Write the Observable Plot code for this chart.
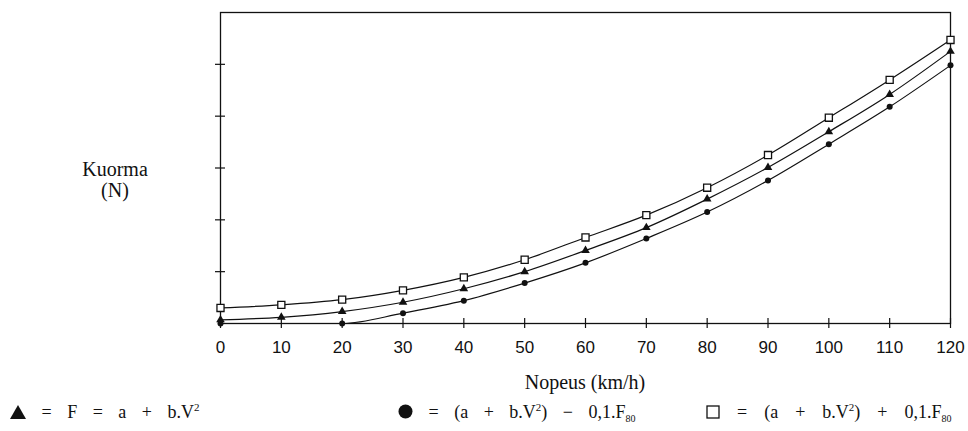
<!DOCTYPE html>
<html>
<head>
<meta charset="utf-8">
<script src="https://cdn.jsdelivr.net/npm/d3@7"></script>
<script src="https://cdn.jsdelivr.net/npm/@observablehq/plot@0.6"></script>
<style>
  html, body { margin: 0; padding: 0; background: #fff; }
  #wrap { position: relative; width: 968px; height: 431px; overflow: hidden; }
  #chart { position: absolute; left: 0; top: 0; }
  .serif { font-family: "Liberation Serif", "Times New Roman", serif; color: #111; position: absolute; white-space: nowrap; }
  .leg { font-size: 18px; word-spacing: 11px; top: 402px; }
  .leg svg { vertical-align: -1px; }
  sup { font-size: 11px; vertical-align: 7px; line-height: 0; }
  sub { font-size: 10px; vertical-align: -4px; line-height: 0; }
</style>
</head>
<body>
<div id="wrap">
  <div id="chart"></div>
  <div class="serif" style="left:60px;width:110px;text-align:center;top:159px;font-size:20px;line-height:21px;">Kuorma<br>(N)</div>
  <div class="serif" style="left:485px;width:200px;text-align:center;top:371px;font-size:20px;">Nopeus (km/h)</div>
  <div class="serif leg" style="left:10px;"><svg width="16" height="14"><path d="M8,0L16,14L0,14Z" fill="#111"/></svg> = F = a + b.V<sup>2</sup></div>
  <div class="serif leg" style="left:398px;"><svg width="15" height="15"><circle cx="7.5" cy="7.5" r="7" fill="#111"/></svg> = (a + b.V<sup>2</sup>) − 0,1.F<sub>80</sub></div>
  <div class="serif leg" style="left:706px;word-spacing:12.5px;"><svg width="14" height="14"><rect x="1" y="1" width="12" height="12" fill="none" stroke="#111" stroke-width="1.3"/></svg> = (a + b.V<sup>2</sup>) + 0,1.F<sub>80</sub></div>
</div>
<script>
const speeds = [0, 10, 20, 30, 40, 50, 60, 70, 80, 90, 100, 110, 120];
const triangleValues = [0.07, 0.12, 0.23, 0.41, 0.67, 1.00, 1.41, 1.85, 2.40, 3.01, 3.70, 4.42, 5.25];
const circleValues = [0, null, 0, 0.20, 0.44, 0.78, 1.17, 1.64, 2.15, 2.76, 3.46, 4.18, 4.98];
const squareValues = [0.30, 0.36, 0.46, 0.64, 0.89, 1.23, 1.66, 2.09, 2.62, 3.25, 3.97, 4.70, 5.47];
const xTicks = speeds;
const yTicks = [1, 2, 3, 4, 5];

const tri = speeds.map((x, i) => ({x, y: triangleValues[i], s: "triangle"}));
const cir = speeds.map((x, i) => ({x, y: circleValues[i], s: "circle"})).filter(d => d.y != null);
const sq = speeds.map((x, i) => ({x, y: squareValues[i], s: "square"}));
const all = [...tri, ...cir, ...sq];

const chart = Plot.plot({
  width: 968,
  height: 362,
  marginLeft: 220,
  marginRight: 18,
  marginTop: 12,
  marginBottom: 39,
  style: {background: "#fff", color: "#111"},
  x: {domain: [0, 120]},
  y: {domain: [0, 6]},
  marks: [
    Plot.frame({stroke: "#111", strokeWidth: 1.3}),
    Plot.axisX({ticks: xTicks, tickSize: 0, tickPadding: 17, label: null,
      fontSize: 17, fontFamily: "'Liberation Sans Narrow', 'Liberation Sans', Arial, sans-serif", tickFormat: d => String(d)}),
    Plot.axisX({ticks: xTicks, tickSize: 10, dy: -5, text: null, label: null, strokeWidth: 1.2}),
    Plot.axisY({ticks: yTicks, tickSize: 10, dx: 5, text: null, label: null, strokeWidth: 1.2}),
    Plot.line(all, {x: "x", y: "y", z: "s", curve: "monotone-x", stroke: "#111", strokeWidth: 1.2}),
    Plot.dot(sq, {x: "x", y: "y", symbol: "square", r: 4, fill: "#fff", stroke: "#111", strokeWidth: 1.3}),
    Plot.dot(tri, {x: "x", y: "y", symbol: "triangle", r: 3.2, fill: "#111", stroke: "none"}),
    Plot.dot(cir, {x: "x", y: "y", symbol: "circle", r: 3, fill: "#111", stroke: "none"})
  ]
});
document.getElementById("chart").appendChild(chart);
</script>
</body>
</html>
